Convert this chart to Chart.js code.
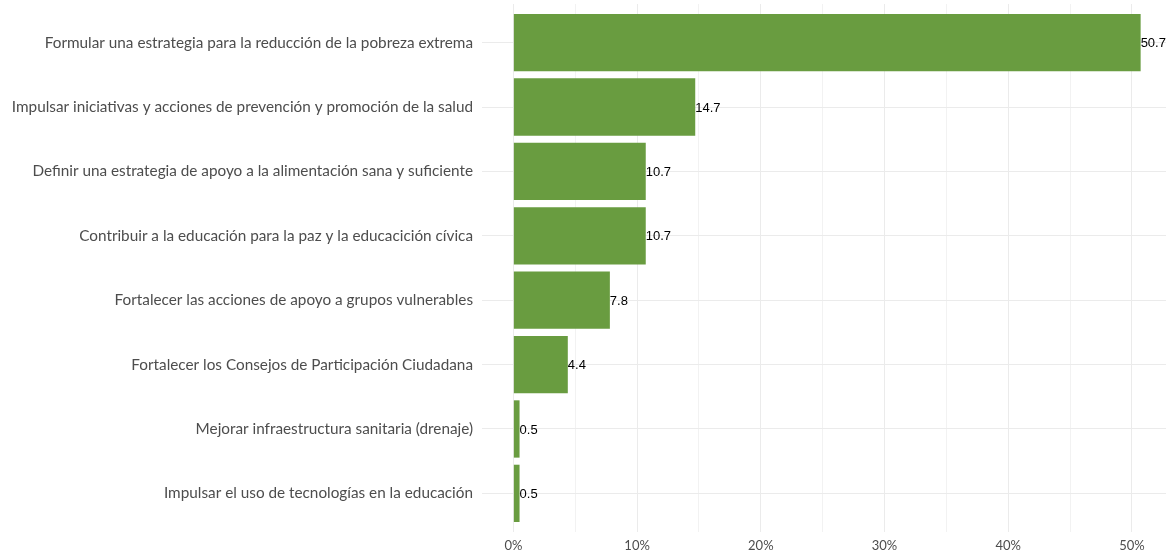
<!DOCTYPE html>
<html>
<head>
<meta charset="utf-8">
<script src="https://cdn.jsdelivr.net/npm/chart.js@4"></script>
<style>
    html, body { margin: 0; padding: 0; background: #ffffff; }
    #wrap { width: 1166px; height: 554px; position: relative; }
</style>
</head>
<body>
<div id="wrap"><canvas id="barChart"></canvas></div>
<script>
// Categories (top to bottom) and their percentages
const categories = [
    'Formular una estrategia para la reducción de la pobreza extrema',
    'Impulsar iniciativas y acciones de prevención y promoción de la salud',
    'Definir una estrategia de apoyo a la alimentación sana y suficiente',
    'Contribuir a la educación para la paz y la educacición cívica',
    'Fortalecer las acciones de apoyo a grupos vulnerables',
    'Fortalecer los Consejos de Participación Ciudadana',
    'Mejorar infraestructura sanitaria (drenaje)',
    'Impulsar el uso de tecnologías en la educación'
];
const percentages = [50.7, 14.7, 10.7, 10.7, 7.8, 4.4, 0.5, 0.5];
const xTickValues = [0, 10, 20, 30, 40, 50];

// Write value next to the end of each bar
const valueLabels = {
    id: 'valueLabels',
    afterDatasetsDraw(chart) {
        const ctx = chart.ctx;
        const meta = chart.getDatasetMeta(0);
        ctx.save();
        ctx.font = '13px "Liberation Sans", Arial, sans-serif';
        ctx.fillStyle = '#000000';
        ctx.textAlign = 'left';
        ctx.textBaseline = 'middle';
        meta.data.forEach((bar, i) => {
            ctx.fillText(percentages[i].toString(), bar.x, bar.y + 1);
        });
        ctx.restore();
    }
};

document.addEventListener('DOMContentLoaded', function() {
    const ctx = document.getElementById('barChart').getContext('2d');
    new Chart(ctx, {
        type: 'bar',
        data: {
            datasets: [{
                data: percentages.map((v, i) => ({ x: v, y: i })),
                backgroundColor: '#699c40',
                borderWidth: 0,
                barPercentage: 0.89,
                categoryPercentage: 1
            }]
        },
        options: {
            indexAxis: 'y',
            responsive: true,
            maintainAspectRatio: false,
            animation: false,
            layout: { padding: { top: 4, right: 0, bottom: 0, left: 0 } },
            scales: {
                x: {
                    type: 'linear',
                    min: -2.535,
                    max: 52.75,
                    offset: false,
                    border: { display: false },
                    grid: {
                        offset: false,
                        color: c => (c.tick && c.tick.value % 10 === 0) ? '#ebebeb' : '#f2f2f2',
                        lineWidth: 1,
                        drawTicks: false
                    },
                    afterBuildTicks: axis => {
                        const t = [];
                        for (let v = 0; v <= 50; v += 5) t.push({ value: v });
                        axis.ticks = t;
                    },
                    afterFit: axis => {
                        axis.height = 22;
                        axis.paddingLeft = 0;
                        axis.paddingRight = 0;
                    },
                    ticks: {
                        autoSkip: false,
                        maxRotation: 0,
                        padding: 6,
                        color: '#4d4d4d',
                        font: { family: 'Lato, "Noto Sans", sans-serif', size: 13 },
                        callback: v => xTickValues.includes(v) ? v + '%' : ''
                    }
                },
                y: {
                    type: 'linear',
                    reverse: true,
                    offset: false,
                    min: -0.6,
                    max: categories.length - 1 + 0.6,
                    border: { display: false },
                    grid: { offset: false, color: '#ebebeb', lineWidth: 1, drawTicks: false },
                    afterBuildTicks: axis => {
                        axis.ticks = categories.map((c, i) => ({ value: i }));
                    },
                    afterFit: axis => {
                        axis.width = 482;
                        axis.paddingTop = 0;
                        axis.paddingBottom = 0;
                    },
                    ticks: {
                        autoSkip: false,
                        padding: 9,
                        color: '#4d4d4d',
                        font: { family: 'Lato, "Noto Sans", sans-serif', size: 15.3 },
                        callback: v => categories[v]
                    }
                }
            },
            plugins: {
                legend: { display: false },
                tooltip: { enabled: false }
            }
        },
        plugins: [valueLabels]
    });
});
</script>
</body>
</html>
